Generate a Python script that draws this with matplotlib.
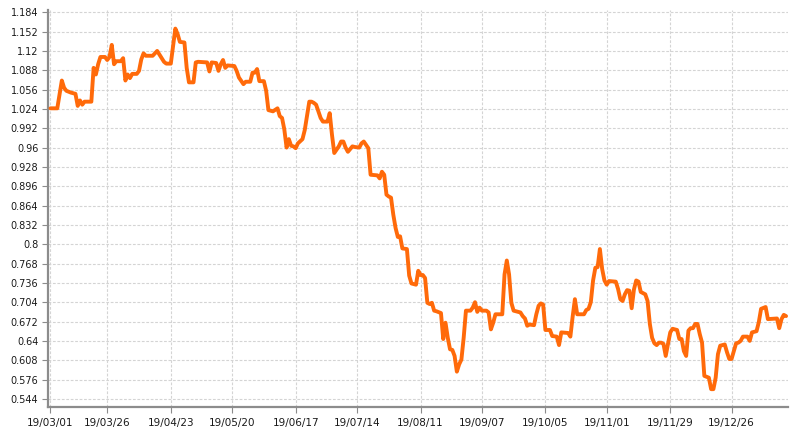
"""Fund NAV line chart, March 2019 - January 2020."""

import matplotlib

matplotlib.use("Agg")

import pandas as pd
from matplotlib import pyplot as plt
from matplotlib.ticker import FixedLocator, FuncFormatter

START_DATE = "2019-03-01"

day_offsets = [
    0, 3, 5, 6, 7, 9, 11, 12, 13, 14, 15, 18, 19, 20, 21, 22, 24, 25, 26, 27,
    28, 29, 31, 32, 33, 34, 35, 36, 38, 39, 40, 41, 42, 45, 46, 47, 48, 50, 51, 53,
    54, 55, 56, 57, 59, 60, 61, 63, 64, 65, 69, 70, 71, 73, 74, 75, 76, 77, 78, 81,
    82, 83, 85, 86, 88, 89, 90, 91, 92, 94, 95, 96, 98, 100, 101, 102, 103, 104, 105, 106,
    107, 108, 109, 111, 112, 114, 115, 116, 117, 119, 120, 122, 123, 124, 125, 127, 128, 129, 130, 131,
    133, 134, 136, 137, 138, 140, 141, 144, 145, 146, 147, 148, 149, 150, 151, 152, 153, 154, 155, 157,
    158, 159, 160, 161, 162, 163, 164, 165, 166, 167, 168, 169, 170, 172, 173, 174, 175, 176, 177, 178,
    179, 180, 181, 182, 183, 185, 186, 187, 188, 189, 190, 192, 193, 194, 195, 196, 199, 200, 201, 202,
    203, 204, 207, 208, 209, 210, 211, 213, 214, 215, 216, 217, 218, 220, 221, 223, 224, 225, 228, 229,
    230, 231, 232, 235, 236, 237, 238, 239, 240, 241, 242, 243, 244, 245, 246, 249, 250, 251, 252, 253,
    254, 255, 256, 257, 258, 259, 260, 261, 262, 263, 264, 265, 266, 267, 268, 269, 270, 271, 272, 273,
    274, 276, 277, 278, 279, 280, 281, 282, 283, 284, 285, 286, 287, 288, 290, 291, 292, 293, 294, 295,
    297, 298, 299, 300, 301, 302, 303, 304, 305, 307, 308, 309, 311, 312, 313, 315, 316, 320, 321, 322,
    323, 324,
]
nav = [
    1.025, 1.025, 1.071, 1.059, 1.054, 1.051, 1.049, 1.029, 1.038, 1.031, 1.036, 1.036, 1.092, 1.081, 1.098, 1.110, 1.110, 1.105, 1.110, 1.130,
    1.098, 1.103, 1.103, 1.108, 1.071, 1.081, 1.075, 1.082, 1.082, 1.087, 1.106, 1.116, 1.112, 1.112, 1.116, 1.120, 1.114, 1.102, 1.099, 1.099,
    1.128, 1.157, 1.148, 1.135, 1.134, 1.092, 1.068, 1.068, 1.101, 1.102, 1.101, 1.086, 1.101, 1.100, 1.087, 1.098, 1.105, 1.092, 1.096, 1.095,
    1.087, 1.076, 1.065, 1.069, 1.069, 1.084, 1.084, 1.090, 1.070, 1.070, 1.054, 1.022, 1.020, 1.025, 1.012, 1.009, 0.990, 0.960, 0.974, 0.963,
    0.962, 0.959, 0.967, 0.974, 0.989, 1.036, 1.036, 1.034, 1.031, 1.009, 1.003, 1.003, 1.017, 0.981, 0.951, 0.962, 0.970, 0.970, 0.960, 0.953,
    0.962, 0.961, 0.960, 0.967, 0.970, 0.959, 0.915, 0.914, 0.909, 0.920, 0.915, 0.882, 0.879, 0.877, 0.849, 0.827, 0.812, 0.813, 0.793, 0.792,
    0.748, 0.735, 0.734, 0.733, 0.756, 0.749, 0.749, 0.744, 0.703, 0.701, 0.703, 0.690, 0.689, 0.686, 0.643, 0.670, 0.645, 0.626, 0.625, 0.615,
    0.589, 0.601, 0.609, 0.645, 0.690, 0.690, 0.695, 0.704, 0.688, 0.695, 0.690, 0.690, 0.687, 0.659, 0.670, 0.684, 0.684, 0.750, 0.773, 0.750,
    0.703, 0.690, 0.687, 0.681, 0.677, 0.665, 0.667, 0.666, 0.684, 0.698, 0.702, 0.700, 0.658, 0.658, 0.648, 0.647, 0.633, 0.654, 0.653, 0.647,
    0.680, 0.709, 0.684, 0.684, 0.691, 0.693, 0.704, 0.740, 0.761, 0.762, 0.792, 0.759, 0.740, 0.733, 0.739, 0.738, 0.726, 0.709, 0.706, 0.717,
    0.724, 0.723, 0.694, 0.725, 0.740, 0.738, 0.721, 0.719, 0.717, 0.706, 0.668, 0.645, 0.636, 0.633, 0.637, 0.637, 0.635, 0.615, 0.635, 0.654,
    0.660, 0.658, 0.643, 0.643, 0.623, 0.615, 0.657, 0.661, 0.661, 0.668, 0.668, 0.651, 0.637, 0.582, 0.579, 0.560, 0.560, 0.579, 0.618, 0.632,
    0.634, 0.621, 0.610, 0.610, 0.623, 0.636, 0.637, 0.640, 0.647, 0.647, 0.640, 0.654, 0.656, 0.671, 0.693, 0.696, 0.676, 0.677, 0.661, 0.676,
    0.683, 0.681,
]

x_tick_labels = [
    "19/03/01", "19/03/26", "19/04/23", "19/05/20", "19/06/17", "19/07/14",
    "19/08/11", "19/09/07", "19/10/05", "19/11/01", "19/11/29", "19/12/26",
]
y_ticks = [
    0.544, 0.576, 0.608, 0.64, 0.672, 0.704, 0.736, 0.768, 0.8, 0.832, 0.864,
    0.896, 0.928, 0.96, 0.992, 1.024, 1.056, 1.088, 1.12, 1.152, 1.184,
]

LINE_COLOR = "#ff6a0a"
AXIS_COLOR = "#8c8c8c"
GRID_COLOR = "#d4d4d4"
TEXT_COLOR = "#1a1a1a"


def main() -> None:
    start = pd.Timestamp(START_DATE)
    dates = start + pd.to_timedelta(day_offsets, unit="D")
    tick_dates = pd.to_datetime(x_tick_labels, format="%y/%m/%d")

    fig = plt.figure(figsize=(8.05, 4.38), dpi=100)
    ax = fig.add_axes([0.0596, 0.0708, 0.9194, 0.9064])

    ax.plot(dates, nav, color=LINE_COLOR, linewidth=2.8,
            solid_joinstyle="round", solid_capstyle="round", zorder=3)

    ax.set_xlim(start - pd.Timedelta(days=1.1), dates[-1] + pd.Timedelta(days=0.9))
    ax.set_ylim(0.5305, 1.1878)

    ax.xaxis.set_major_locator(FixedLocator(matplotlib.dates.date2num(tick_dates)))
    ax.xaxis.set_major_formatter(FuncFormatter(
        lambda v, pos: x_tick_labels[pos] if pos is not None and pos < len(x_tick_labels) else ""
    ))
    ax.set_yticks(y_ticks)
    ax.yaxis.set_major_formatter(FuncFormatter(lambda v, pos: f"{round(v, 3):g}"))

    ax.grid(True, color=GRID_COLOR, linestyle=(0, (2.5, 1.5)), linewidth=0.8, zorder=0)
    for side in ("top", "right"):
        ax.spines[side].set_visible(False)
    for side in ("left", "bottom"):
        ax.spines[side].set_color(AXIS_COLOR)
        ax.spines[side].set_linewidth(1.6)

    ax.tick_params(axis="both", colors=AXIS_COLOR, labelcolor=TEXT_COLOR,
                   labelsize=7, length=4, width=0.8, pad=3)
    ax.tick_params(axis="x", labelsize=7.5, pad=4)

    fig.savefig("out.png", dpi=100, facecolor="white")


if __name__ == "__main__":
    main()
